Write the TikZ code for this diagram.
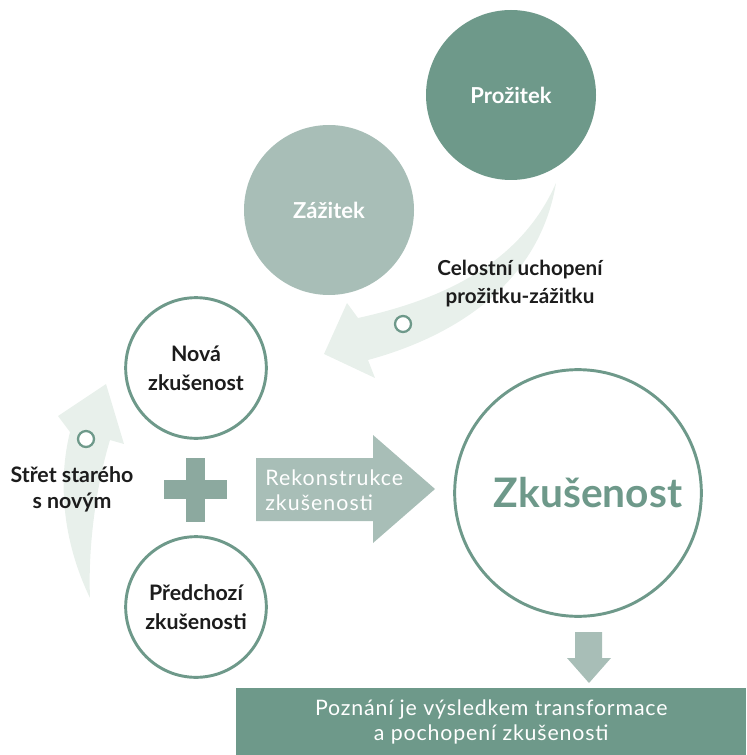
\documentclass[tikz,border=0pt]{standalone}
\usepackage{fontspec}
\setmainfont{Lato}
\usepackage{tikz}
\usetikzlibrary{positioning}
\definecolor{DeepSage}{HTML}{6E998A}
\definecolor{SoftSage}{HTML}{A8BEB7}
\definecolor{PlusSage}{HTML}{8CA99F}
\definecolor{MistSage}{HTML}{E8F0EB}
\definecolor{InkBlack}{HTML}{1C1C1C}
\definecolor{White}{HTML}{FFFFFF}

\tikzset{
    solidcircle/.style={
        circle,
        inner sep=0pt,
        minimum size=127.5pt,
        text=White,
        font=\fontsize{16.5}{20}\selectfont\bfseries
    },
    ringcircle/.style={
        circle,
        draw=DeepSage,
        line width=2.2pt,
        fill=White,
        inner sep=0pt,
        align=center,
        text=InkBlack,
        font=\fontsize{16}{21.75}\selectfont\bfseries
    },
    dotmark/.style={
        circle,
        draw=DeepSage,
        line width=1.7pt,
        fill=White,
        inner sep=0pt,
        minimum size=12pt
    },
    caption/.style={
        align=center,
        text=InkBlack,
        font=\fontsize{15.5}{21}\selectfont\bfseries
    }
}

\begin{document}
\begin{tikzpicture}[x=0.75pt,y=-0.75pt]
\useasboundingbox (0,0) rectangle (746,755);

\fill[MistSage] (556,183) .. controls (520,265) and (440,300) .. (358,318)
    -- (347,303) -- (324,354) -- (375,378) -- (368,360)
    .. controls (460,335) and (540,280) .. (556,183) -- cycle;
\fill[MistSage] (90,598) .. controls (62,540) and (58,480) .. (70,432)
    -- (58,416) -- (106,384) -- (124,444) -- (110,440)
    .. controls (95,490) and (88,550) .. (90,598) -- cycle;

\node[solidcircle, fill=DeepSage] (prozitek) at (511,95) {Prožitek};
\node[solidcircle, fill=SoftSage] (zazitek) at (329,210) {Zážitek};

\node[caption] (celostni) at (520,284) {Celostní uchopení\\prožitku-zážitku};
\node[dotmark] (dotTop) at (403,324) {};

\node[ringcircle, minimum size=105.5pt] (nova) at (196,368) {Nová\\zkušenost};
\node[ringcircle, minimum size=105.5pt] (predchozi) at (196,607) {Předchozí\\zkušenosti};

\node[dotmark] (dotLeft) at (86,439) {};
\node[caption, font=\fontsize{16}{19.5}\selectfont\bfseries] (stret) at (72,489) {Střet starého\\s novým};

\fill[PlusSage] (164,480) rectangle (227,499);
\fill[PlusSage] (186,458) rectangle (205,522);

\fill[SoftSage] (256,458) -- (373,458) -- (373,435) -- (435,489)
    -- (373,543) -- (373,521) -- (256,521) -- cycle;
\node[
    align=left,
    anchor=west,
    inner sep=0pt,
    text=White,
    font=\fontsize{16}{19}\selectfont\addfontfeatures{LetterSpace=5}
] (rekon) at (265,490) {Rekonstrukce\\zkušenosti};

\node[ringcircle, minimum size=185pt] (zkusenost) at (578,493) {};
\node[
    text=DeepSage,
    font=\fontsize{30.5}{34}\selectfont\bfseries
] (zktext) at (588,493) {Zkušenost};

\fill[SoftSage] (575,632) -- (602,632) -- (602,658) -- (611,658)
    -- (589,683) -- (567,658) -- (575,658) -- cycle;

\node[
    fill=DeepSage,
    minimum width=382.5pt,
    minimum height=50.25pt,
    anchor=north west,
    align=center,
    text=White,
    font=\fontsize{16}{18.75}\selectfont\addfontfeatures{LetterSpace=4}
] (poznani) at (236,688) {Poznání je výsledkem transformace\\a pochopení zkušenosti};
\end{tikzpicture}
\end{document}
